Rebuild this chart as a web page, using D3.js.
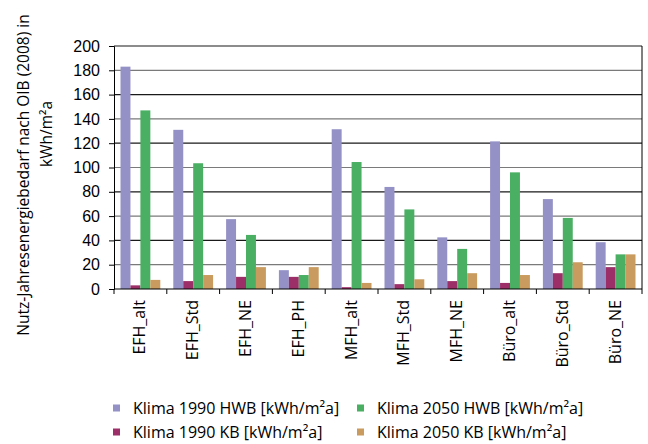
<!DOCTYPE html>
<html>
<head>
<meta charset="utf-8">
<script src="https://cdn.jsdelivr.net/npm/d3@7"></script>
<style>
  body { margin: 0; background: #fff; }
  svg { font-family: "Open Sans", sans-serif; }
  .tick text { fill: #000; }
</style>
</head>
<body>
<svg id="chart" width="648" height="444"></svg>
<script>
// categories and series
const categories = ['EFH_alt', 'EFH_Std', 'EFH_NE', 'EFH_PH', 'MFH_alt', 'MFH_Std', 'MFH_NE', 'Büro_alt', 'Büro_Std', 'Büro_NE'];
const seriesNames = ['Klima 1990 HWB [kWh/m²a]', 'Klima 1990 KB [kWh/m²a]', 'Klima 2050 HWB [kWh/m²a]', 'Klima 2050 KB [kWh/m²a]'];
const hwb1990 = [183, 131, 57.5, 15.5, 131.5, 84, 42.5, 121.5, 74, 38.5];
const kb1990 = [3, 6.5, 10, 10, 1.5, 4, 6.5, 5, 13, 18];
const hwb2050 = [147, 103.5, 44.5, 11.5, 104.5, 65.5, 33, 96, 58.5, 28.5];
const kb2050 = [7.5, 11.5, 18, 18, 5, 8, 13, 11.5, 22, 28.5];
const yTicks = [0, 20, 40, 60, 80, 100, 120, 140, 160, 180, 200];
const colors = ['#9491c6', '#9c2f68', '#4aae63', '#c99b5e'];

const series = [hwb1990, kb1990, hwb2050, kb2050];

const margin = { top: 46, right: 6, bottom: 155, left: 114 };
const width = 648 - margin.left - margin.right;
const height = 444 - margin.top - margin.bottom;

const svg = d3.select('#chart');
const chart = svg.append('g')
    .attr('transform', `translate(${margin.left},${margin.top})`);

const xScale = d3.scaleBand()
    .domain(categories)
    .range([0, width])
    .paddingInner(0)
    .paddingOuter(0);

const xInner = d3.scaleBand()
    .domain(d3.range(4))
    .range([6.5, xScale.bandwidth() - 6.5]);

const yScale = d3.scaleLinear()
    .domain([0, 200])
    .range([height, 0]);

// gridlines
chart.append('g')
    .selectAll('line')
    .data(yTicks.filter(d => d > 0))
    .join('line')
    .attr('x1', 0)
    .attr('x2', width)
    .attr('y1', d => yScale(d))
    .attr('y2', d => yScale(d))
    .attr('stroke', (d, i) => i % 2 === 0 ? '#7a7a7a' : '#1a1a1a')
    .attr('stroke-width', 1.2);

// right border of the plot area
chart.append('line')
    .attr('x1', width).attr('x2', width)
    .attr('y1', 0).attr('y2', height)
    .attr('stroke', '#000');

// bars
series.forEach((vals, s) => {
    chart.append('g')
        .selectAll('rect')
        .data(vals)
        .join('rect')
        .attr('x', (d, i) => xScale(categories[i]) + xInner(s))
        .attr('y', d => yScale(d))
        .attr('width', xInner.bandwidth())
        .attr('height', d => height - yScale(d))
        .attr('fill', colors[s]);
});

// y axis
const yAxis = d3.axisLeft(yScale).tickValues(yTicks).tickSize(5).tickPadding(9);
const yAxisG = chart.append('g').call(yAxis);
yAxisG.select('.domain').attr('stroke', '#000');
yAxisG.selectAll('.tick line').attr('stroke', '#000');
yAxisG.selectAll('.tick text').style('font-size', '16px');

// x axis with ticks between categories
const xAxisG = chart.append('g')
    .attr('transform', `translate(0,${height})`);
xAxisG.append('line')
    .attr('x1', 0).attr('x2', width)
    .attr('stroke', '#000').attr('stroke-width', 1.2);
xAxisG.selectAll('.sep')
    .data(d3.range(categories.length + 1))
    .join('line')
    .attr('class', 'sep')
    .attr('x1', i => i * xScale.bandwidth())
    .attr('x2', i => i * xScale.bandwidth())
    .attr('y1', 0).attr('y2', 5)
    .attr('stroke', '#000');
xAxisG.selectAll('.cat')
    .data(categories)
    .join('text')
    .attr('class', 'cat')
    .attr('transform', d => `translate(${xScale(d) + xScale.bandwidth() / 2 + 5},11) rotate(-90)`)
    .attr('text-anchor', 'end')
    .style('font-size', '16px')
    .text(d => d);

// y axis title, two lines
svg.append('text')
    .attr('transform', 'translate(29,175) rotate(-90)')
    .attr('text-anchor', 'middle')
    .style('font-size', '15.5px')
    .text('Nutz-Jahresenergiebedarf nach OIB (2008) in');
svg.append('text')
    .attr('transform', 'translate(52,134) rotate(-90)')
    .attr('text-anchor', 'middle')
    .style('font-size', '15.5px')
    .text('kWh/m²a');

// legend
const legendPos = [[113, 408], [113, 432], [357, 408], [357, 432]];
const legend = svg.append('g');
seriesNames.forEach((name, i) => {
    const g = legend.append('g')
        .attr('transform', `translate(${legendPos[i][0]},${legendPos[i][1]})`);
    g.append('rect')
        .attr('x', 0).attr('y', -3.5)
        .attr('width', 7).attr('height', 7)
        .attr('fill', colors[i]);
    g.append('text')
        .attr('x', 20).attr('y', 5.5)
        .style('font-size', '16px')
        .text(name);
});
</script>
</body>
</html>
